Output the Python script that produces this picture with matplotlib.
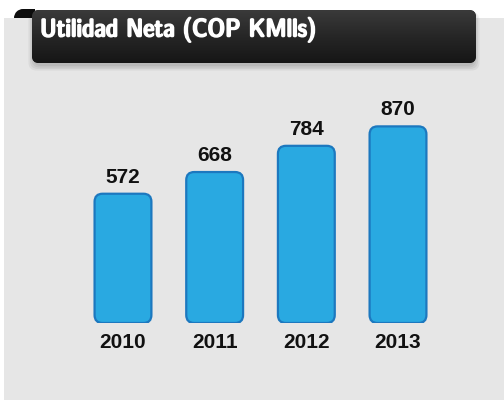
import matplotlib
matplotlib.use("Agg")
import matplotlib.pyplot as plt
from matplotlib.patches import FancyBboxPatch, Rectangle, Wedge
from matplotlib import font_manager
import matplotlib.patheffects as pe
import numpy as np

years = ["2010", "2011", "2012", "2013"]
values = [572, 668, 784, 870]
title = "Utilidad Neta (COP KMlls)"

W, H = 504, 400
fig = plt.figure(figsize=(W / 100, H / 100), dpi=100)
fig.patch.set_facecolor("white")

# pick a condensed sans font (semibold/bold) for the title if any is installed
cands = []
for f in font_manager.fontManager.ttflist:
    nm = f.name.lower()
    fn = f.fname.lower()
    st = str(f.stretch).lower()
    cond = ("narrow" in nm or "condensed" in nm or "condensed" in st or "narrow" in fn
            or "condensed" in fn)
    if not cond or "mono" in nm or "mono" in fn or "serif" in fn.replace("sans", "") \
            or "italic" in fn or "oblique" in fn or str(f.style) != "normal":
        continue
    w = f.weight if isinstance(f.weight, int) else 400
    if "bold" in fn and "semi" not in fn and "extra" not in fn:
        w = max(w, 700)
    score = -abs(w - 650)
    cands.append((score, f.fname))
if cands:
    cands.sort(reverse=True)
    title_fp = font_manager.FontProperties(fname=cands[0][1])
else:
    title_fp = font_manager.FontProperties(family="Roboto", weight="medium")

# decoration layer in pixel units
deco = fig.add_axes([0, 0, 1, 1], zorder=0)
deco.axis("off")
deco.set_xlim(0, W)
deco.set_ylim(H, 0)

# curl of ribbon
deco.add_patch(Wedge((23, 18), 9, 180, 360, facecolor="#0d0d0d", edgecolor="none", zorder=1))
deco.add_patch(Rectangle((23, 9), 12, 9, facecolor="#0d0d0d", edgecolor="none", zorder=1))
# gray panel
deco.add_patch(Rectangle((4, 17.5), W - 4, H - 17.5, facecolor="#e6e6e6", edgecolor="none", zorder=2))

# shadow of title box
for i in range(4):
    d = 1 + i * 1.5
    deco.add_patch(FancyBboxPatch((32 - d + 2, 10 + 2), 444 + 2 * d - 4, 53 + d,
                                  boxstyle="round,pad=0,rounding_size=8",
                                  facecolor="black", edgecolor="none", alpha=0.05, zorder=3))
# title box with gradient
box = FancyBboxPatch((32, 10), 444, 53, boxstyle="round,pad=0,rounding_size=7",
                     facecolor="#222222", edgecolor="none", zorder=4)
deco.add_patch(box)
grad = np.linspace(0, 1, 100).reshape(-1, 1)
im = deco.imshow(grad, cmap=matplotlib.colors.LinearSegmentedColormap.from_list(
    "g", ["#3a3a3a", "#262626", "#161616"]), extent=(32, 476, 63, 10), aspect="auto", zorder=5)
im.set_clip_path(box)
deco.set_xlim(0, W)
deco.set_ylim(H, 0)
tt = deco.text(40, 36.5, title, color="white", fontproperties=title_fp,
               va="baseline", ha="left", zorder=6)
tt.set_fontsize(16)
# fit title width to ~276 px
fig.canvas.draw()
bb = tt.get_window_extent()
if bb.width > 0:
    tt.set_fontsize(min(19, 16 * 276.0 / bb.width))
tt.set_path_effects([pe.withStroke(linewidth=1.1, foreground="white")])

# bars axes
x0_px, x1_px = 77.15, 443.85
base_px, top_px = 323, 97
ax = fig.add_axes([x0_px / W, (H - base_px) / H, (x1_px - x0_px) / W, (base_px - top_px) / H], zorder=1)
ax.set_xlim(-0.5, 3.5)
ax.set_ylim(0, 1000)
ax.patch.set_alpha(0)
for s in ax.spines.values():
    s.set_visible(False)
ax.set_yticks([])

bw = 0.62
xu_per_px = 4.0 / (x1_px - x0_px)
yu_per_px = 1000.0 / (base_px - top_px)
rad_px = 8
xs = np.arange(len(values))
for x, v in zip(xs, values):
    p = FancyBboxPatch((x - bw / 2, 0), bw, v,
                       boxstyle=f"round,pad=0,rounding_size={rad_px * xu_per_px}",
                       mutation_aspect=yu_per_px / xu_per_px,
                       facecolor="#29a9e1", edgecolor="#1c78bf", linewidth=1.6)
    ax.add_patch(p)
    ax.annotate(str(v), (x, v), xytext=(0, 5), textcoords="offset points",
                ha="center", va="bottom", fontsize=15, fontweight="bold",
                family="Liberation Sans", color="#111111")

ax.set_xticks(xs)
ax.set_xticklabels(years, fontsize=15, fontweight="bold", family="Liberation Sans", color="#111111")
ax.tick_params(axis="x", length=0, pad=7)

fig.savefig("out.png", dpi=100, facecolor=fig.get_facecolor())
